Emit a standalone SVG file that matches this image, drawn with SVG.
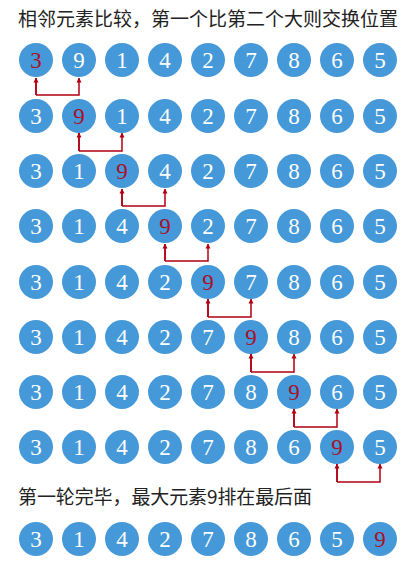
<svg xmlns="http://www.w3.org/2000/svg" width="419" height="570" viewBox="0 0 419 570">
<defs>
<style>
.t{font-family:"Noto Sans CJK SC","Liberation Serif",serif;font-size:19px;fill:#222}
.c{fill:#4599d8}
.n{font-family:"Liberation Serif","DejaVu Serif",serif;font-size:23px;fill:#fff;text-anchor:middle}
.r{fill:#a8102a}
.a{fill:none;stroke:#b00010;stroke-width:1.5}
</style>
<marker id="ah" viewBox="0 0 10 10" refX="9" refY="5" markerWidth="5" markerHeight="7" orient="auto" markerUnits="userSpaceOnUse"><path d="M0,0L10,5L0,10z" fill="#b00010"/></marker>
</defs>
<rect width="419" height="570" fill="#fff"/>
<text class="t" x="18" y="26" textLength="380">相邻元素比较，第一个比第二个大则交换位置</text>
<text class="t" x="18" y="504" textLength="294">第一轮完毕，最大元素9排在最后面</text>
<g id="connectors">
<path class="a" d="M36,95V78M36,95H79V78" marker-end="url(#ah)"/>
<path class="a" d="M36,95V78" marker-end="url(#ah)"/>
<path class="a" d="M79,151V133M79,151H122V133" marker-end="url(#ah)"/>
<path class="a" d="M79,151V133" marker-end="url(#ah)"/>
<path class="a" d="M122,206V189M122,206H165V189" marker-end="url(#ah)"/>
<path class="a" d="M122,206V189" marker-end="url(#ah)"/>
<path class="a" d="M165,261V244M165,261H208V244" marker-end="url(#ah)"/>
<path class="a" d="M165,261V244" marker-end="url(#ah)"/>
<path class="a" d="M208,317V299M208,317H251V299" marker-end="url(#ah)"/>
<path class="a" d="M208,317V299" marker-end="url(#ah)"/>
<path class="a" d="M251,372V354M251,372H294V354" marker-end="url(#ah)"/>
<path class="a" d="M251,372V354" marker-end="url(#ah)"/>
<path class="a" d="M294,427V409M294,427H337V409" marker-end="url(#ah)"/>
<path class="a" d="M294,427V409" marker-end="url(#ah)"/>
<path class="a" d="M337,482V464M337,482H380V464" marker-end="url(#ah)"/>
<path class="a" d="M337,482V464" marker-end="url(#ah)"/>
</g>
<g id="row1">
<circle class="c" cx="36" cy="60" r="17"/><circle class="c" cx="79" cy="60" r="17"/><circle class="c" cx="122" cy="60" r="17"/><circle class="c" cx="165" cy="60" r="17"/><circle class="c" cx="208" cy="60" r="17"/><circle class="c" cx="251" cy="60" r="17"/><circle class="c" cx="294" cy="60" r="17"/><circle class="c" cx="337" cy="60" r="17"/><circle class="c" cx="380" cy="60" r="17"/>
<text class="n" y="68"><tspan x="36" class="r">3</tspan><tspan x="79">9</tspan><tspan x="122">1</tspan><tspan x="165">4</tspan><tspan x="208">2</tspan><tspan x="251">7</tspan><tspan x="294">8</tspan><tspan x="337">6</tspan><tspan x="380">5</tspan></text>
</g>
<g id="row2">
<circle class="c" cx="36" cy="116" r="17"/><circle class="c" cx="79" cy="116" r="17"/><circle class="c" cx="122" cy="116" r="17"/><circle class="c" cx="165" cy="116" r="17"/><circle class="c" cx="208" cy="116" r="17"/><circle class="c" cx="251" cy="116" r="17"/><circle class="c" cx="294" cy="116" r="17"/><circle class="c" cx="337" cy="116" r="17"/><circle class="c" cx="380" cy="116" r="17"/>
<text class="n" y="124"><tspan x="36">3</tspan><tspan x="79" class="r">9</tspan><tspan x="122">1</tspan><tspan x="165">4</tspan><tspan x="208">2</tspan><tspan x="251">7</tspan><tspan x="294">8</tspan><tspan x="337">6</tspan><tspan x="380">5</tspan></text>
</g>
<g id="row3">
<circle class="c" cx="36" cy="171" r="17"/><circle class="c" cx="79" cy="171" r="17"/><circle class="c" cx="122" cy="171" r="17"/><circle class="c" cx="165" cy="171" r="17"/><circle class="c" cx="208" cy="171" r="17"/><circle class="c" cx="251" cy="171" r="17"/><circle class="c" cx="294" cy="171" r="17"/><circle class="c" cx="337" cy="171" r="17"/><circle class="c" cx="380" cy="171" r="17"/>
<text class="n" y="179"><tspan x="36">3</tspan><tspan x="79">1</tspan><tspan x="122" class="r">9</tspan><tspan x="165">4</tspan><tspan x="208">2</tspan><tspan x="251">7</tspan><tspan x="294">8</tspan><tspan x="337">6</tspan><tspan x="380">5</tspan></text>
</g>
<g id="row4">
<circle class="c" cx="36" cy="226" r="17"/><circle class="c" cx="79" cy="226" r="17"/><circle class="c" cx="122" cy="226" r="17"/><circle class="c" cx="165" cy="226" r="17"/><circle class="c" cx="208" cy="226" r="17"/><circle class="c" cx="251" cy="226" r="17"/><circle class="c" cx="294" cy="226" r="17"/><circle class="c" cx="337" cy="226" r="17"/><circle class="c" cx="380" cy="226" r="17"/>
<text class="n" y="234"><tspan x="36">3</tspan><tspan x="79">1</tspan><tspan x="122">4</tspan><tspan x="165" class="r">9</tspan><tspan x="208">2</tspan><tspan x="251">7</tspan><tspan x="294">8</tspan><tspan x="337">6</tspan><tspan x="380">5</tspan></text>
</g>
<g id="row5">
<circle class="c" cx="36" cy="282" r="17"/><circle class="c" cx="79" cy="282" r="17"/><circle class="c" cx="122" cy="282" r="17"/><circle class="c" cx="165" cy="282" r="17"/><circle class="c" cx="208" cy="282" r="17"/><circle class="c" cx="251" cy="282" r="17"/><circle class="c" cx="294" cy="282" r="17"/><circle class="c" cx="337" cy="282" r="17"/><circle class="c" cx="380" cy="282" r="17"/>
<text class="n" y="290"><tspan x="36">3</tspan><tspan x="79">1</tspan><tspan x="122">4</tspan><tspan x="165">2</tspan><tspan x="208" class="r">9</tspan><tspan x="251">7</tspan><tspan x="294">8</tspan><tspan x="337">6</tspan><tspan x="380">5</tspan></text>
</g>
<g id="row6">
<circle class="c" cx="36" cy="337" r="17"/><circle class="c" cx="79" cy="337" r="17"/><circle class="c" cx="122" cy="337" r="17"/><circle class="c" cx="165" cy="337" r="17"/><circle class="c" cx="208" cy="337" r="17"/><circle class="c" cx="251" cy="337" r="17"/><circle class="c" cx="294" cy="337" r="17"/><circle class="c" cx="337" cy="337" r="17"/><circle class="c" cx="380" cy="337" r="17"/>
<text class="n" y="345"><tspan x="36">3</tspan><tspan x="79">1</tspan><tspan x="122">4</tspan><tspan x="165">2</tspan><tspan x="208">7</tspan><tspan x="251" class="r">9</tspan><tspan x="294">8</tspan><tspan x="337">6</tspan><tspan x="380">5</tspan></text>
</g>
<g id="row7">
<circle class="c" cx="36" cy="392" r="17"/><circle class="c" cx="79" cy="392" r="17"/><circle class="c" cx="122" cy="392" r="17"/><circle class="c" cx="165" cy="392" r="17"/><circle class="c" cx="208" cy="392" r="17"/><circle class="c" cx="251" cy="392" r="17"/><circle class="c" cx="294" cy="392" r="17"/><circle class="c" cx="337" cy="392" r="17"/><circle class="c" cx="380" cy="392" r="17"/>
<text class="n" y="400"><tspan x="36">3</tspan><tspan x="79">1</tspan><tspan x="122">4</tspan><tspan x="165">2</tspan><tspan x="208">7</tspan><tspan x="251">8</tspan><tspan x="294" class="r">9</tspan><tspan x="337">6</tspan><tspan x="380">5</tspan></text>
</g>
<g id="row8">
<circle class="c" cx="36" cy="447" r="17"/><circle class="c" cx="79" cy="447" r="17"/><circle class="c" cx="122" cy="447" r="17"/><circle class="c" cx="165" cy="447" r="17"/><circle class="c" cx="208" cy="447" r="17"/><circle class="c" cx="251" cy="447" r="17"/><circle class="c" cx="294" cy="447" r="17"/><circle class="c" cx="337" cy="447" r="17"/><circle class="c" cx="380" cy="447" r="17"/>
<text class="n" y="455"><tspan x="36">3</tspan><tspan x="79">1</tspan><tspan x="122">4</tspan><tspan x="165">2</tspan><tspan x="208">7</tspan><tspan x="251">8</tspan><tspan x="294">6</tspan><tspan x="337" class="r">9</tspan><tspan x="380">5</tspan></text>
</g>
<g id="row9">
<circle class="c" cx="36" cy="539" r="17"/><circle class="c" cx="79" cy="539" r="17"/><circle class="c" cx="122" cy="539" r="17"/><circle class="c" cx="165" cy="539" r="17"/><circle class="c" cx="208" cy="539" r="17"/><circle class="c" cx="251" cy="539" r="17"/><circle class="c" cx="294" cy="539" r="17"/><circle class="c" cx="337" cy="539" r="17"/><circle class="c" cx="380" cy="539" r="17"/>
<text class="n" y="547"><tspan x="36">3</tspan><tspan x="79">1</tspan><tspan x="122">4</tspan><tspan x="165">2</tspan><tspan x="208">7</tspan><tspan x="251">8</tspan><tspan x="294">6</tspan><tspan x="337">5</tspan><tspan x="380" class="r">9</tspan></text>
</g>
</svg>
